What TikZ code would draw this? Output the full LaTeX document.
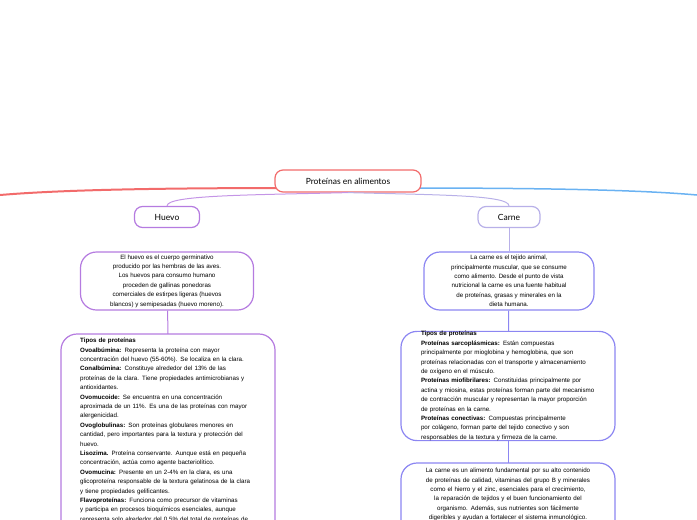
\documentclass[tikz,border=0pt]{standalone}
\usepackage{fontspec}
\setmainfont{Liberation Sans}
\newfontfamily\titlefont{Lato}
\usetikzlibrary{positioning}
\definecolor{rootred}{HTML}{F26B6B}
\definecolor{eggpurple}{HTML}{B57BE0}
\definecolor{meatlav}{HTML}{B8B0E8}
\definecolor{meatblue}{HTML}{8C86F2}
\definecolor{skyblue}{HTML}{6AB2F2}
\newcommand{\nohyph}{\hyphenpenalty=10000\relax}
\tikzset{
  topic/.style={draw, line width=1.2pt, rounded corners=8pt, fill=white, align=center, font=\titlefont\fontsize{8.5}{10}\selectfont, inner sep=0pt},
  note/.style={draw, line width=1.2pt, rounded corners=16pt, fill=white, font=\fontsize{6.2}{9.4}\selectfont\nohyph, inner sep=0pt},
  bare/.style={font=\fontsize{6.2}{9.4}\selectfont\nohyph, inner sep=0pt},
}
\begin{document}
\begin{tikzpicture}[x=1pt,y=-1pt]
\useasboundingbox (0,0) rectangle (697,520);
\clip (0,0) rectangle (697,520);
% main branches
\draw [rootred, line width=2pt] (300,188) .. controls (150,188) and (60,190) .. (0,195);
\draw [skyblue, line width=1.5pt] (400,188) .. controls (550,188) and (640,190) .. (697,195);
\node [topic, draw=rootred, minimum width=146pt, minimum height=22pt] (root) at (348,181) {Prote\'inas en alimentos};
\node [topic, draw=eggpurple, minimum width=65pt, minimum height=21pt] (huevo) at (167,217) {Huevo};
\node [topic, draw=meatlav, minimum width=62pt, minimum height=21pt] (carne) at (509,217) {Carne};
\draw [eggpurple!80, line width=1pt] (root.south) .. controls (250,195) and (167,195) .. (huevo.north);
\draw [meatlav, line width=1pt] (root.south) .. controls (440,195) and (509,195) .. (carne.north);
% Huevo
\node [note, draw=eggpurple, minimum width=173pt, minimum height=58pt, align=center] (huevodesc) at (167,281) {El huevo es el cuerpo germinativo\\producido por las hembras de las aves.\\Los huevos para consumo humano\\proceden de gallinas ponedoras\\comerciales de estirpes ligeras (huevos\\blancos) y semipesadas (huevo moreno).};
\coordinate (huevotop) at (168,334);
\draw [eggpurple, line width=1pt] (huevodesc) -- (huevotop);
\draw [eggpurple, line width=1.2pt, rounded corners=16pt, fill=white] (61,334) rectangle (275,560);
\node [bare, anchor=north west, text width=172pt, align=left] (huevotipos) at (80,338) {\textbf{Tipos de prote\'inas}\\
\textbf{Ovoalb\'umina:} Representa la prote\'ina con mayor concentraci\'on del huevo (55-60\%). Se localiza en la clara.\\
\textbf{Conalb\'umina:} Constituye alrededor del 13\% de las prote\'inas de la clara. Tiene propiedades antimicrobianas y antioxidantes.\\
\textbf{Ovomucoide:} Se encuentra en una concentraci\'on aproximada de un 11\%. Es una de las prote\'inas con mayor alergenicidad.\\
\textbf{Ovoglobulinas:} Son prote\'inas globulares menores en cantidad, pero importantes para la textura y protecci\'on del huevo.\\
\textbf{Lisozima.} Prote\'ina conservante. Aunque est\'a en peque\~na concentraci\'on, act\'ua como agente bacteriol\'itico.\\
\textbf{Ovomucina:} Presente en un 2-4\% en la clara, es una glicoprote\'ina responsable de la textura gelatinosa de la clara y tiene propiedades gelificantes.\\
\textbf{Flavoprote\'inas:} Funciona como precursor de vitaminas y participa en procesos bioqu\'imicos esenciales, aunque representa solo alrededor del 0,5\% del total de prote\'inas de la clara.};
% Carne
\node [note, draw=meatblue, minimum width=170pt, minimum height=58pt, align=center] (carnedesc) at (509,281) {La carne es el tejido animal,\\principalmente muscular, que se consume\\como alimento. Desde el punto de vista\\nutricional la carne es una fuente habitual\\de prote\'inas, grasas y minerales en la\\dieta humana.};
\node [note, draw=meatblue, minimum width=214pt, minimum height=104pt, text width=174pt, align=left] (carnetipos) at (508,386) {\textbf{Tipos de prote\'inas}\\
\textbf{Prote\'inas sarcopl\'asmicas:} Est\'an compuestas principalmente por mioglobina y hemoglobina, que son prote\'inas relacionadas con el transporte y almacenamiento de ox\'igeno en el m\'usculo.\\
\textbf{Prote\'inas miofibrilares:} Constituidas principalmente por actina y miosina, estas prote\'inas forman parte del mecanismo de contracci\'on muscular y representan la mayor proporci\'on de prote\'inas en la carne.\\
\textbf{Prote\'inas conectivas:} Compuestas principalmente por col\'ageno, forman parte del tejido conectivo y son responsables de la textura y firmeza de la carne.};
\coordinate (carnetop) at (508,463);
\draw [meatlav, line width=1pt] (carne) -- (carnedesc);
\draw [meatblue, line width=1pt] (carnedesc) -- (carnetipos);
\draw [meatblue, line width=1pt] (carnetipos) -- (carnetop);
\draw [meatblue, line width=1.2pt, rounded corners=16pt, fill=white] (401,463) rectangle (615,560);
\node [bare, anchor=north, text width=180pt, align=center] (carnefin) at (508,468) {La carne es un alimento fundamental por su alto contenido de prote\'inas de calidad, vitaminas del grupo B y minerales como el hierro y el zinc, esenciales para el crecimiento, la reparaci\'on de tejidos y el buen funcionamiento del organismo. Adem\'as, sus nutrientes son f\'acilmente digeribles y ayudan a fortalecer el sistema inmunol\'ogico.};
\end{tikzpicture}
\end{document}
